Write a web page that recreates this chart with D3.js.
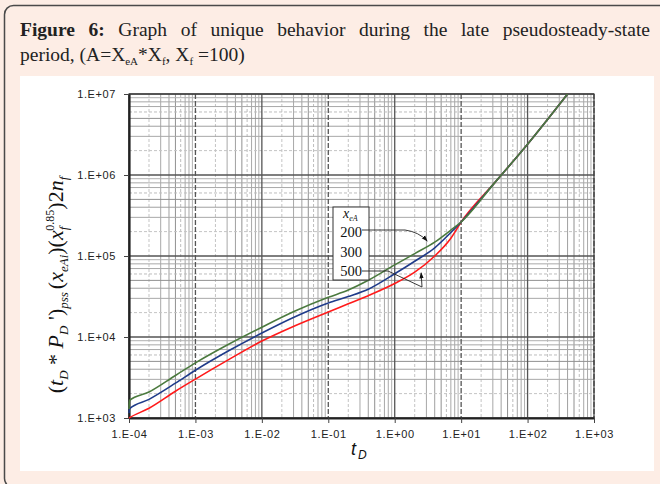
<!DOCTYPE html>
<html>
<head>
<meta charset="utf-8">
<title>Figure 6</title>
<script src="https://d3js.org/d3.v7.min.js"></script>
<style>
  body { margin: 0; background: #fdede5; }
  svg { display: block; }
</style>
</head>
<body>
<svg id="chart" width="660" height="484"></svg>
<script>
// dimensionless time, shared by the three curves
var tD = [1e-4, 1.02e-4, 2e-4, 5e-4, 1e-3, 3.16e-3, 1e-2, 3.16e-2, 0.1,
          0.2, 0.4, 1, 2, 4, 7, 10, 31.6, 100, 400];

// (tD*PD')pss (xeAi)(xf^0.85) 2nf, one array per xeA
var xeA200 = [1290, 1650, 2090, 3350, 4790, 8130, 13200, 20900, 30900,
              38000, 50100, 77600, 107000, 148000, 209000, 263000, 794000, 2400000, 10000000];
var xeA300 = [1150, 1300, 1700, 2690, 3890, 6760, 11200, 17800, 26300,
              31600, 38900, 60300, 86100, 126000, 195000, 263000, 794000, 2400000, 10000000];
var xeA500 = [1000, 1010, 1320, 2140, 3020, 5250, 8910, 13800, 20400,
              25700, 32400, 45700, 63100, 100000, 166000, 263000, 794000, 2400000, 10000000];

var legendLabels = ["200", "300", "500"];
var xTicks = [1e-4, 1e-3, 1e-2, 1e-1, 1, 10, 100, 1000];
var xTickLabels = ["1.E-04", "1.E-03", "1.E-02", "1.E-01", "1.E+00", "1.E+01", "1.E+02", "1.E+03"];
var yTicks = [1e3, 1e4, 1e5, 1e6, 1e7];
var yTickLabels = ["1.E+03", "1.E+04", "1.E+05", "1.E+06", "1.E+07"];

var svg = d3.select("#chart");

// page frame + caption
svg.append("rect").attr("x", 0).attr("y", 0).attr("width", 660).attr("height", 484)
  .attr("fill", "#fdede5");
svg.append("rect").attr("x", 4.5).attr("y", 5.5).attr("width", 720).attr("height", 482)
  .attr("rx", 9).attr("fill", "none").attr("stroke", "#4a4a4a").attr("stroke-width", 1.5);
svg.append("rect").attr("x", 20).attr("y", 76).attr("width", 634).attr("height", 395)
  .attr("fill", "#fff");

// justified first caption line
var words = ["Figure", "6:", "Graph", "of", "unique", "behavior", "during", "the", "late", "pseudosteady-state"];
var cap = svg.append("g").attr("font-family", "Liberation Serif, serif").attr("font-size", 19.5)
  .attr("fill", "#222");
var wEls = words.map(function(w, i) {
  return cap.append("text").attr("y", 36).attr("font-weight", i < 2 ? "bold" : "normal").text(w);
});
var widths = wEls.map(function(t) { return t.node().getComputedTextLength(); });
var gap = (650 - 20 - d3.sum(widths)) / (words.length - 1);
var cx = 20;
wEls.forEach(function(t, i) { t.attr("x", cx); cx += widths[i] + gap; });

var line2 = cap.append("text").attr("x", 20).attr("y", 61);
line2.append("tspan").text("period, (A=X");
line2.append("tspan").attr("font-size", 11).attr("dy", 4).text("eA");
line2.append("tspan").attr("dy", -4).text("*X");
line2.append("tspan").attr("font-size", 11).attr("dy", 4).text("f");
line2.append("tspan").attr("dy", -4).text(", X");
line2.append("tspan").attr("font-size", 11).attr("dy", 4).text("f");
line2.append("tspan").attr("dy", -4).text(" =100)");

// scales
var x = d3.scaleLog().domain([1e-4, 1e3]).range([129, 594]);
var y = d3.scaleLog().domain([1e3, 1e7]).range([418, 94]);

// grid lines
var grid = svg.append("g");
var minorStyle = {2: ["#c4c4c4", "3,2"], 3: ["#a8a8a8", null], 4: ["#a0a0a0", null], 5: ["#909090", null],
                  6: ["#bdbdbd", "3,2"], 7: ["#a8a8a8", null], 8: ["#a8a8a8", null], 9: ["#b0b0b0", null]};
function gridVals(lo, hi) {
  var out = [];
  for (var e = lo; e < hi; e++) {
    for (var k = 2; k <= 9; k++) out.push({v: k * Math.pow(10, e), k: k, e: e});
  }
  return out;
}
gridVals(-4, 3).forEach(function(g) {
  grid.append("line").attr("x1", x(g.v)).attr("x2", x(g.v)).attr("y1", 94).attr("y2", 418)
    .attr("stroke", minorStyle[g.k][0]).attr("stroke-dasharray", minorStyle[g.k][1]);
});
gridVals(3, 7).forEach(function(g) {
  grid.append("line").attr("y1", y(g.v)).attr("y2", y(g.v)).attr("x1", 129).attr("x2", 594)
    .attr("stroke", minorStyle[g.k][0]).attr("stroke-dasharray", minorStyle[g.k][1]);
});
xTicks.forEach(function(v, i) {
  grid.append("line").attr("x1", x(v)).attr("x2", x(v)).attr("y1", 94).attr("y2", 418)
    .attr("stroke", "#555").attr("stroke-width", 1.3).attr("stroke-dasharray", i % 2 ? "5,2" : null);
});
yTicks.forEach(function(v) {
  grid.append("line").attr("y1", y(v)).attr("y2", y(v)).attr("x1", 129).attr("x2", 594)
    .attr("stroke", "#555").attr("stroke-width", 1.3);
});
svg.append("rect").attr("x", 129).attr("y", 94).attr("width", 465).attr("height", 324)
  .attr("fill", "none").attr("stroke", "#3a3a3a").attr("stroke-width", 1.2);

// axes
var xAxis = svg.append("g").attr("transform", "translate(0,418)")
  .call(d3.axisBottom(x).tickValues(xTicks).tickFormat(function(d, i) { return xTickLabels[i]; })
    .tickSize(5).tickSizeOuter(0));
var yAxis = svg.append("g").attr("transform", "translate(129,0)")
  .call(d3.axisLeft(y).tickValues(yTicks).tickFormat(function(d, i) { return yTickLabels[i]; })
    .tickSize(5).tickSizeOuter(0));
[xAxis, yAxis].forEach(function(a) {
  a.select(".domain").attr("stroke", "#222").attr("stroke-width", 2.2);
  a.selectAll(".tick line").attr("stroke", "#444");
  a.selectAll(".tick text").attr("font-family", "Liberation Sans, Arial, sans-serif")
    .attr("font-size", 11).attr("letter-spacing", 0.6).attr("fill", "#222");
});
xAxis.selectAll(".tick text").attr("dy", "0.75em").attr("y", 12);
yAxis.selectAll(".tick text").attr("x", -13);

// curves
var line = d3.line().x(function(d) { return x(d[0]); }).y(function(d) { return y(d[1]); })
  .curve(d3.curveMonotoneX);
var series = [
  {vals: xeA500, color: "#ff1a1a"},
  {vals: xeA300, color: "#1f3b8a"},
  {vals: xeA200, color: "#4b7a3e"}
];
series.forEach(function(s) {
  svg.append("path").datum(d3.zip(tD, s.vals)).attr("d", line)
    .attr("fill", "none").attr("stroke", s.color).attr("stroke-width", 1.6);
});

// legend box
var lg = svg.append("g").attr("font-family", "Liberation Serif, serif").attr("fill", "#111");
lg.append("rect").attr("x", 333).attr("y", 207).attr("width", 36).attr("height", 73)
  .attr("fill", "#fff").attr("stroke", "#333");
var lt = lg.append("text").attr("x", 343).attr("y", 218).attr("font-size", 14).attr("font-style", "italic");
lt.append("tspan").text("x");
lt.append("tspan").attr("font-size", 8).attr("dy", 3).text("eA");
legendLabels.forEach(function(l, i) {
  lg.append("text").attr("x", 351).attr("y", 237 + i * 19.5).attr("text-anchor", "middle")
    .attr("font-size", 14.5).text(l);
});

// pointer arrows
var defs = svg.append("defs");
defs.append("marker").attr("id", "ah").attr("viewBox", "0 0 10 10").attr("refX", 9).attr("refY", 5)
  .attr("markerWidth", 7).attr("markerHeight", 7).attr("orient", "auto")
  .append("path").attr("d", "M0,1.5 L10,5 L0,8.5 z").attr("fill", "#111");
var tip200 = [x(3.08), y(1.53e5)];
var tip500 = [x(2.5), y(6.2e4)];
svg.append("path").attr("d", "M362,230 L405,230 Q419,232 " + tip200[0] + "," + tip200[1])
  .attr("fill", "none").attr("stroke", "#222").attr("stroke-width", 0.9).attr("marker-end", "url(#ah)");
svg.append("path").attr("d", "M362,271 L388,271 L422,287 L" + tip500[0] + "," + tip500[1])
  .attr("fill", "none").attr("stroke", "#222").attr("stroke-width", 0.9).attr("marker-end", "url(#ah)");

// axis titles
var xt = svg.append("text").attr("x", 351).attr("y", 455).attr("font-family", "Liberation Sans, Arial, sans-serif")
  .attr("font-style", "italic").attr("font-size", 18).attr("fill", "#111");
xt.append("tspan").text("t");
xt.append("tspan").attr("font-size", 12).attr("dx", 2).attr("dy", 4).text("D");

var yt = svg.append("text").attr("transform", "translate(63,285) rotate(-90)").attr("text-anchor", "middle")
  .attr("font-family", "Liberation Serif, serif").attr("font-size", 22).attr("fill", "#111");
function part(txt, opt) {
  var t = yt.append("tspan").text(txt);
  opt = opt || {};
  if (opt.it) t.attr("font-style", "italic");
  if (opt.fs) t.attr("font-size", opt.fs);
  if (opt.dy) t.attr("dy", opt.dy);
  if (opt.dx) t.attr("dx", opt.dx);
  return t;
}
part("(");
part("t", {it: 1});
part("D", {it: 1, fs: 13, dy: 5});
part(" * ", {dy: -5});
part("P", {it: 1});
part("D", {it: 1, fs: 13, dy: 5});
part(" ')", {dy: -5});
part("pss", {it: 1, fs: 13, dy: 5});
part("(", {dy: -5, dx: 3});
part("x", {it: 1});
part("eAi", {it: 1, fs: 13, dy: 5});
part(")(", {dy: -5});
part("x", {it: 1});
part("f", {it: 1, fs: 13, dy: 5});
part("0.85", {fs: 12, dy: -14, dx: -4});
part(")2", {dy: 9});
part("n", {it: 1});
part("f", {it: 1, fs: 13, dy: 5});
</script>
</body>
</html>
